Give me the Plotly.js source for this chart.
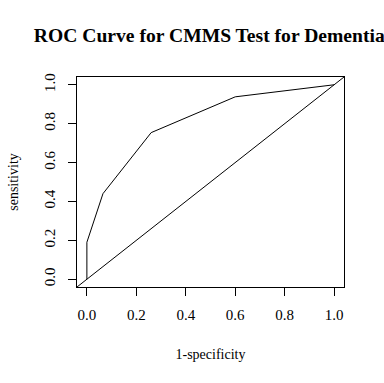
<!DOCTYPE html>
<html><head><meta charset="utf-8">
<script src="https://cdn.plot.ly/plotly-3.0.1.min.js"></script>
<style>html,body{margin:0;padding:0;background:#fff}#chart{width:384px;height:383px}</style>
</head><body><div id="chart"></div>
<script>
const oneMinusSpecificity = [0, 0, 0.065, 0.26, 0.60, 1.0];
const sensitivity = [0, 0.19, 0.44, 0.754, 0.938, 1.0];
const tickVals = [0, 0.2, 0.4, 0.6, 0.8, 1.0];
const tickLabels = ["0.0", "0.2", "0.4", "0.6", "0.8", "1.0"];
const titleText = "ROC Curve for CMMS Test for Dementia";
const xTitle = "1-specificity";
const yTitle = "sensitivity";

const serif = "Liberation Serif, Times New Roman, serif";
const axisCommon = {
  range: [-0.04, 1.04], tickvals: tickVals, ticktext: tickLabels,
  ticks: "outside", ticklen: 8, tickwidth: 1, tickcolor: "#000",
  showline: true, mirror: true, linecolor: "#000", linewidth: 1,
  showgrid: false, zeroline: false, automargin: false,
  tickfont: {family: serif, size: 15, color: "#000"},
  fixedrange: true
};
const layout = {
  width: 384, height: 383,
  margin: {l: 77, r: 40, t: 77, b: 96},
  paper_bgcolor: "#fff", plot_bgcolor: "#fff",
  showlegend: false,
  title: {text: "<b>" + titleText + "</b>", font: {family: serif, size: 19.6, color: "#000"},
          x: 0.545, xanchor: "center", y: 0.908, yanchor: "middle"},
  xaxis: Object.assign({}, axisCommon, {
    ticklabelstandoff: 6,
    title: {text: xTitle, font: {family: serif, size: 14, color: "#000"}, standoff: 27}
  }),
  yaxis: Object.assign({}, axisCommon, {
    tickangle: -90, ticklabelstandoff: 7,
    title: {text: yTitle, font: {family: serif, size: 14, color: "#000"}, standoff: 20}
  }),
  shapes: [{type: "line", xref: "paper", yref: "paper", x0: 0, y0: 0, x1: 1, y1: 1,
            line: {color: "#000", width: 1}}]
};
Plotly.newPlot("chart", [{
  x: oneMinusSpecificity, y: sensitivity, type: "scatter", mode: "lines",
  line: {color: "#000", width: 1}, hoverinfo: "skip"
}], layout, {staticPlot: true, displayModeBar: false});
</script></body></html>
